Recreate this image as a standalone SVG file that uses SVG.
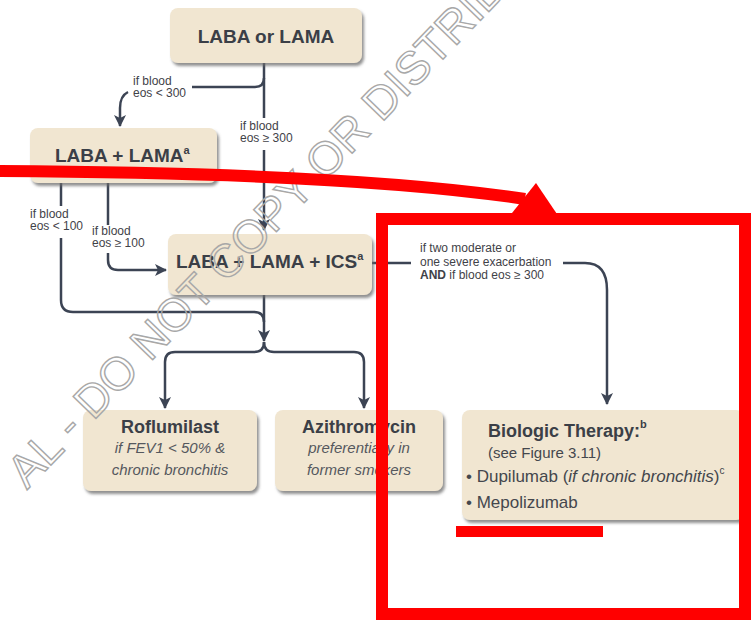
<svg xmlns="http://www.w3.org/2000/svg" width="756" height="620" viewBox="0 0 756 620">
<style>
.node rect{fill:#f1e6d1;filter:url(#sh)}
.b{font-family:"Liberation Sans",Arial,sans-serif;font-weight:bold;fill:#3b3f47}
.r{font-family:"Liberation Sans",Arial,sans-serif;fill:#44474d}
.i{font-family:"Liberation Sans",Arial,sans-serif;font-style:italic;fill:#55585e}
.lbl{font-family:"Liberation Sans",Arial,sans-serif;font-size:12px;fill:#3f4248}
.conn path{fill:none;stroke:#3c4454;stroke-width:2.5}
.wm{font-family:"Liberation Sans",Arial,sans-serif;font-size:46px;fill:none;stroke:#a8a8a8;stroke-width:1.4}
.red{fill:none;stroke:#ff0000;stroke-width:12}
</style>
<defs>
<filter id="sh" x="-10%" y="-10%" width="125%" height="130%">
<feDropShadow dx="2" dy="3" stdDeviation="1.8" flood-color="#6b6b6b" flood-opacity="0.75"/>
</filter>
<marker id="ah" viewBox="0 0 12 12" markerWidth="12" markerHeight="12" refX="11" refY="6" orient="auto" markerUnits="userSpaceOnUse">
<path d="M0,0 L12,6 L0,12 L3,6 z" fill="#3c4454"/>
</marker>
</defs>
<rect width="756" height="620" fill="#ffffff"/>

<g class="conn" id="connectors">
<path d="M264,63 V118"/>
<path d="M264,150 V230" marker-end="url(#ah)"/>
<path d="M264,78 Q264,87 255,87 H192"/>
<path d="M128,92 Q120,96 120,108 V126" marker-end="url(#ah)"/>
<path d="M61,183 V206"/>
<path d="M61,238 V300 Q61,312 73,312 H254 Q264,312 264,322"/>
<path d="M108,183 V225"/>
<path d="M108,253 V260 Q108,270 118,270 H166" marker-end="url(#ah)"/>
<path d="M264,295 V341" marker-end="url(#ah)"/>
<path d="M264,342 Q264,352 254,352 H175 Q165,352 165,362 V408" marker-end="url(#ah)"/>
<path d="M264,342 Q264,352 274,352 H354 Q364,352 364,362 V408" marker-end="url(#ah)"/>
<path d="M372,263 H411"/>
<path d="M563,263 H585 Q607,263 607,290 V404" marker-end="url(#ah)"/>
</g>

<g class="lbl" id="labels">
<text x="133" y="85">if blood</text>
<text x="133" y="97">eos &lt; 300</text>
<text x="240" y="130">if blood</text>
<text x="240" y="142">eos ≥ 300</text>
<text x="30" y="218">if blood</text>
<text x="30" y="230">eos &lt; 100</text>
<text x="92" y="235">if blood</text>
<text x="92" y="247">eos ≥ 100</text>
<text x="420" y="252">if two moderate or</text>
<text x="420" y="266">one severe exacerbation</text>
<text x="420" y="279"><tspan font-weight="bold">AND</tspan> if blood eos ≥ 300</text>
</g>

<g class="node" id="n-laba-or-lama">
<rect x="170" y="8" width="192" height="55" rx="8"/>
<text class="b" x="266" y="43" font-size="19" text-anchor="middle">LABA or LAMA</text>
</g>
<g class="node" id="n-laba-lama">
<rect x="30" y="128" width="187" height="55" rx="8"/>
<text class="b" x="55" y="162" font-size="19">LABA + LAMA<tspan font-size="11" dy="-8">a</tspan></text>
</g>
<g class="node" id="n-laba-lama-ics">
<rect x="168" y="234" width="204" height="61" rx="8"/>
<text class="b" x="176" y="268" font-size="19">LABA + LAMA + ICS<tspan font-size="11" dy="-8">a</tspan></text>
</g>
<g class="node" id="n-roflumilast">
<rect x="83" y="410" width="174" height="81" rx="8"/>
<text class="b" x="170" y="433" font-size="18" text-anchor="middle">Roflumilast</text>
<text class="i" x="170" y="453" font-size="15" text-anchor="middle">if FEV1 &lt; 50% &amp;</text>
<text class="i" x="170" y="475" font-size="15" text-anchor="middle">chronic bronchitis</text>
</g>
<g class="node" id="n-azithromycin">
<rect x="275" y="410" width="168" height="81" rx="8"/>
<text class="b" x="359" y="433" font-size="18" text-anchor="middle">Azithromycin</text>
<text class="i" x="359" y="453" font-size="15" text-anchor="middle">preferentially in</text>
<text class="i" x="359" y="475" font-size="15" text-anchor="middle">former smokers</text>
</g>
<g class="node" id="n-biologic">
<rect x="462" y="410" width="282" height="110" rx="8"/>
<text class="b" x="488" y="437" font-size="18">Biologic Therapy:<tspan font-size="11" dy="-9">b</tspan></text>
<text class="r" x="488" y="458" font-size="15">(see Figure 3.11)</text>
<text class="r" x="466" y="482" font-size="17">• Dupilumab (<tspan font-style="italic">if chronic bronchitis</tspan>)<tspan font-size="10" dy="-8">c</tspan></text>
<text class="r" x="466" y="508" font-size="17">• Mepolizumab</text>
</g>

<text class="wm" transform="translate(27,490) rotate(-46)">AL - DO NOT COPY OR DISTRIB</text>

<g id="annotations">
<path class="red" d="M-5,171 C200,172 400,180 525,199"/>
<polygon points="536,183 561,220 512,213" fill="#ff0000"/>
<rect class="red" x="382" y="219" width="363" height="395"/>
<rect x="456" y="526" width="147" height="11" fill="#ff0000"/>
</g>
</svg>
